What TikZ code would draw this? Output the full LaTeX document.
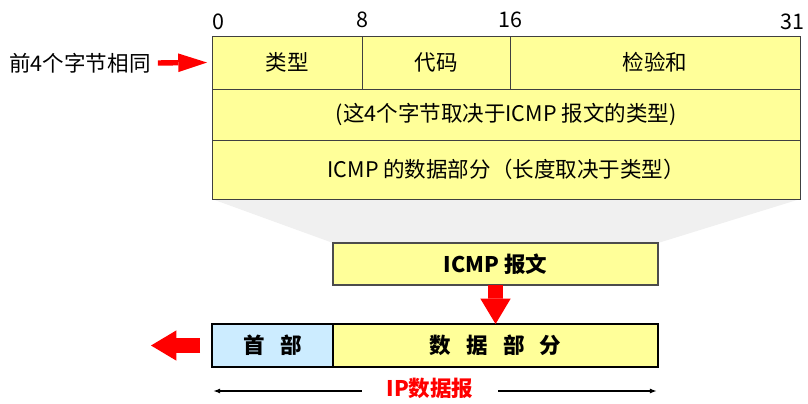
\documentclass[tikz,border=0pt]{standalone}
\usepackage{fontspec}
\setmainfont{Noto Sans CJK SC}
\usetikzlibrary{arrows.meta, positioning, backgrounds}
\definecolor{fieldyellow}{RGB}{255,255,153}
\definecolor{hdrblue}{RGB}{204,236,255}
\definecolor{fanegray}{RGB}{240,240,240}

\begin{document}
\begin{tikzpicture}[
  x=0.025cm, y=-0.025cm,
  font=\fontsize{15.3pt}{17pt}\selectfont,
  field/.style={draw=black!75, line width=0.7pt, fill=fieldyellow, inner sep=0pt, outer sep=0pt, minimum height=1.325cm},
  pkt/.style={draw=black, line width=1.8pt, inner sep=0pt, outer sep=0pt, minimum height=1.075cm, font=\fontsize{15.3pt}{17pt}\selectfont\bfseries},
  bitno/.style={anchor=south, inner sep=1pt},
  redarrow/.style={red, line width=3.8pt, -{Triangle[length=20.5pt, width=13.3pt, line width=0pt]}},
  bigarrow/.style={red, line width=10.5pt, -{Triangle[length=18pt, width=21.5pt, line width=0pt]}},
  dimline/.style={black, line width=1pt, -{Latex[length=5pt, width=3.5pt]}},
]
\useasboundingbox (0,0) rectangle (808,403);
% ICMP header: first row of three fields, then two full-width rows
\node[field, anchor=north west, minimum width=3.75cm] (typ) at (212,36) {类型};
\node[field, anchor=west, minimum width=3.7cm] (code) at (typ.east) {代码};
\node[field, anchor=west, minimum width=7.25cm] (chk) at (code.east) {检验和};
\node[field, anchor=north west, minimum width=14.7cm, minimum height=1.275cm] (rest) at (typ.south west) {(这4个字节取决于ICMP 报文的类型)};
\node[field, anchor=north west, minimum width=14.7cm, minimum height=1.475cm] (body) at (rest.south west) {ICMP 的数据部分（长度取决于类型）};
% bit positions
\node[bitno] at (218,31) {0};
\node[bitno] at (code.north west) [yshift=5pt] {8};
\node[bitno] at (chk.north west) [yshift=5pt] {16};
\node[bitno] at (792,31) {31};
% left note
\node[inner sep=0pt] (same) at (80,63) {前4个字节相同};
\draw[redarrow, shorten <=5pt, shorten >=3.5pt] (same.east) -- (typ.west);
% the whole ICMP message, carried in the IP datagram
\node[field, draw=black!70, line width=1pt, minimum width=8.125cm, minimum height=1.05cm, font=\fontsize{15.3pt}{17pt}\selectfont\bfseries] (icmp) at (495.5,264) {ICMP 报文};
\node[pkt, fill=hdrblue, minimum width=3.025cm] (hdr) at (272.5,345.5) {首\hspace{0.7em}部};
\node[pkt, fill=fieldyellow, anchor=west, minimum width=8.125cm] (data) at (hdr.east) {数\hspace{0.7em}据\hspace{0.7em}部\hspace{0.7em}分};
% fan from the header drawing down to the message
\begin{scope}[on background layer]
\fill[fanegray] (body.south west) -- (body.south east) -- (icmp.north east) -- (icmp.north west) -- cycle;
\end{scope}
\draw[bigarrow] (icmp.south) -- (data.north);
\coordinate (out) at (151,345.5);
\draw[bigarrow, shorten <=8.5pt] (hdr.west) -- (out);
% span of the IP datagram
\node[red, font=\fontsize{15.3pt}{17pt}\selectfont\bfseries, inner xsep=17.5pt, inner ysep=0pt] (ipd) at (430,388) {IP数据报};
\coordinate (dl) at (213,391);
\coordinate (dr) at (657,391);
\draw[dimline] (ipd.west |- dl) -- (dl);
\draw[dimline] (ipd.east |- dr) -- (dr);
\end{tikzpicture}
\end{document}
